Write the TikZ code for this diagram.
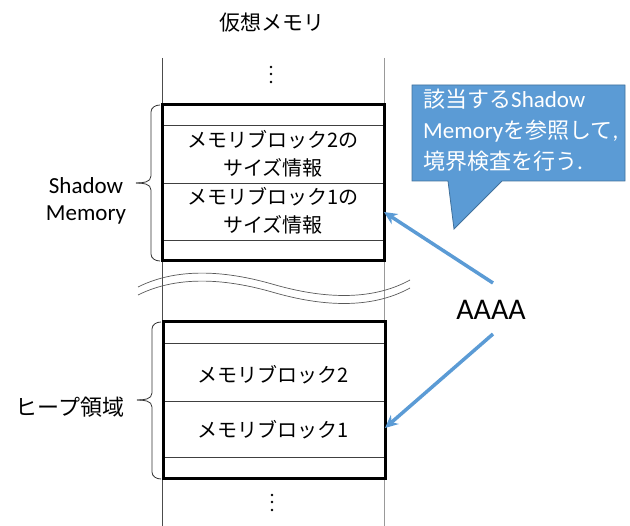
\documentclass[tikz,border=0pt]{standalone}
\usepackage{fontspec}
\setmainfont{Carlito}
\newfontfamily\jp{Noto Sans CJK JP}
\usetikzlibrary{arrows.meta}
\definecolor{callblue}{HTML}{5B9BD5}
\definecolor{calledge}{HTML}{41719C}
\begin{document}
\begin{tikzpicture}[x=1pt,y=-1pt,
  membox/.style={draw=black,line width=3pt},
  divline/.style={draw=black!75,line width=0.8pt},
  boxtxt/.style={align=center,inner sep=0pt,font=\jp\fontsize{20}{28}\selectfont},
  lbl/.style={align=center,inner sep=0pt},
  bracepath/.style={draw=black!80,line width=0.8pt},
  ptr/.style={draw=callblue,line width=3.5pt,-{Stealth[length=13pt,width=12pt]}},
  dotmark/.style={fill=black,circle,inner sep=0pt,minimum size=2.6pt}]
\useasboundingbox (0,0) rectangle (630,526);

% title
\node[lbl,font=\jp\fontsize{21}{25}\selectfont] (title) at (272,23) {仮想メモリ};

% vertical lines
\coordinate (vlt) at (162,58);
\coordinate (vlb) at (162,526);
\coordinate (vrt) at (384,58);
\coordinate (vrb) at (384,526);
\draw[black!70,line width=0.8pt] (vlt) -- (vlb);
\draw[black!40,line width=1pt] (vrt) -- (vrb);

% dots
\node[dotmark] (d1) at (271,67) {};
\node[dotmark] (d2) at (271,74) {};
\node[dotmark] (d3) at (271,82) {};
\node[dotmark] (d4) at (272,495) {};
\node[dotmark] (d5) at (272,502) {};
\node[dotmark] (d6) at (272,510) {};

% shadow memory box
\fill[white] (162,105) rectangle (384,261);
\draw[divline] (162,125) -- (384,125);
\draw[divline] (162,183) -- (384,183);
\draw[divline] (162,240) -- (384,240);
\draw[membox] (162,105) rectangle (384,261);
\node[boxtxt] (s2) at (273,154) {メモリブロック2の\\サイズ情報};
\node[boxtxt] (s1) at (273,211) {メモリブロック1の\\サイズ情報};
\coordinate (sedge) at (384,212);

% heap box
\fill[white] (163,322) rectangle (385,479);
\draw[divline] (163,343) -- (385,343);
\draw[divline] (163,401) -- (385,401);
\draw[divline] (163,457) -- (385,457);
\draw[membox] (163,322) rectangle (385,479);
\node[boxtxt] (h2) at (273,375) {メモリブロック2};
\node[boxtxt] (h1) at (273,430) {メモリブロック1};
\coordinate (hedge) at (385,428);

% wavy break lines
\draw[black!65,line width=0.7pt] (138,287) .. controls (180,266) and (230,272) .. (272,284) .. controls (320,298) and (370,302) .. (410,280);
\draw[black!65,line width=0.7pt] (138,295) .. controls (180,274) and (230,280) .. (272,292) .. controls (320,306) and (370,310) .. (410,288);

% braces
\draw[bracepath] (160,105) to[out=180,in=90] (151,112) -- (151,176) to[out=-90,in=0] (136,183);
\draw[bracepath] (136,183) to[out=0,in=90] (151,190) -- (151,254) to[out=-90,in=180] (160,261);
\draw[bracepath] (161,322) to[out=180,in=90] (152,329) -- (152,393) to[out=-90,in=0] (137,400);
\draw[bracepath] (137,400) to[out=0,in=90] (152,407) -- (152,472) to[out=-90,in=180] (161,479);

% side labels
\node[lbl,font=\fontsize{23}{27}\selectfont] (shl) at (86,201) {Shadow\\Memory};
\node[lbl,font=\jp\fontsize{22}{26}\selectfont] (hpl) at (70,407) {ヒープ領域};

% AAAA
\node[lbl,font=\fontsize{30}{34}\selectfont] (aaaa) at (491,310) {AAAA};
\coordinate (a1) at (493,283);
\coordinate (a2) at (493,334);
\draw[ptr] (a1) -- (sedge);
\draw[ptr] (a2) -- (hedge);

% callout
\draw[fill=callblue,draw=calledge,line width=0.8pt] (412,85) -- (625,85) -- (625,181) -- (502,181) -- (454,229) -- (448,181) -- (412,181) -- cycle;
\node[lbl,align=left,anchor=north west,text=white,font=\fontsize{23}{31}\selectfont] (call) at (423,89) {{\jp\fontsize{22}{31}\selectfont 該当する}Shadow\\Memory{\jp\fontsize{22}{31}\selectfont を参照して}, \\{\jp\fontsize{22}{31}\selectfont 境界検査を行う}.};
\end{tikzpicture}
\end{document}
